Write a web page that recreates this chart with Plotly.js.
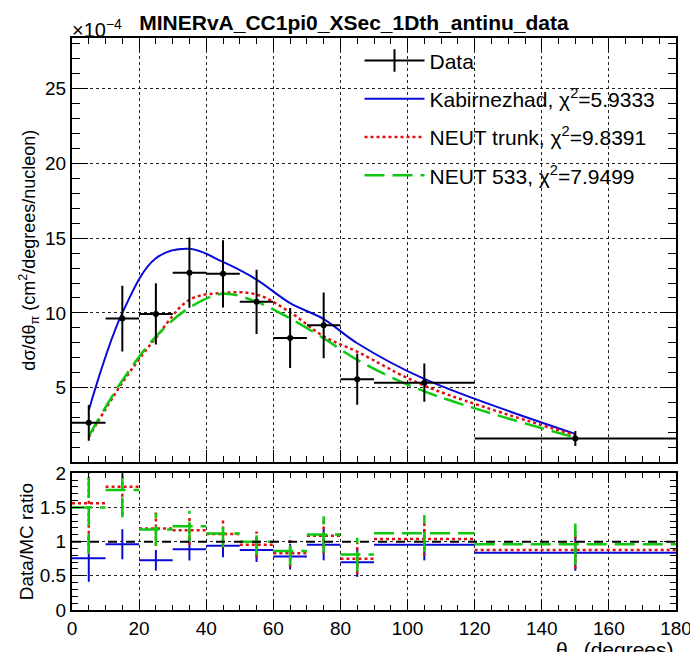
<!DOCTYPE html>
<html><head><meta charset="utf-8">
<script src="https://cdn.plot.ly/plotly-3.0.1.min.js"></script>
<style>html,body{margin:0;padding:0;background:#fff}#chart{width:690px;height:652px}</style>
</head><body><div id="chart"></div>
<script>
// Cross sections in units of 1e-4 cm^2/degrees/nucleon
const binEdges = [0, 10, 20, 30, 40, 50, 60, 70, 80, 90, 120, 180];
const dataXsec = [2.64, 9.62, 9.93, 12.69, 12.62, 10.74, 8.32, 9.17, 5.56, 5.33, 1.59];
const dataErr  = [1.20, 2.20, 2.05, 2.35, 2.25, 2.15, 2.00, 2.20, 1.70, 1.28, 0.50];
const kabXsec       = [3.49, 10.0, 13.66, 14.29, 13.41, 12.23, 10.65, 9.59, 7.97, 5.58, 1.90];
const neutTrunkXsec = [1.69, 5.33, 8.34, 10.88, 11.34, 11.23, 10.04, 8.43, 7.40, 5.13, 1.81];
const neut533Xsec   = [1.76, 5.48, 8.42, 10.35, 11.28, 10.74, 9.63, 8.30, 6.86, 4.75, 1.65];
const seriesNames = ['Kabirnezhad, χ<sup>2</sup>=5.9333', 'NEUT trunk, χ<sup>2</sup>=9.8391', 'NEUT 533, χ<sup>2</sup>=7.9499'];
const mainYTickVals = [0, 5, 10, 15, 20, 25];
const mainYTickText = ['', '5', '10', '15', '20', '25'];

const FONT = 'Liberation Sans, Arial, Helvetica, sans-serif';
const BLUE = '#0a0ad8', RED = '#e01010', GREEN = '#10c810';

const centers = binEdges.slice(0, -1).map((e, i) => (e + binEdges[i + 1]) / 2);
const halfW = binEdges.slice(0, -1).map((e, i) => (binEdges[i + 1] - e) / 2);

function ratioSegments(mc) {
  const xs = [], ys = [];
  mc.forEach((m, i) => {
    const r = dataXsec[i] / m, e = dataErr[i] / m;
    xs.push(binEdges[i], binEdges[i + 1], null, centers[i], centers[i], null);
    ys.push(r, r, null, r - e, r + e, null);
  });
  return {x: xs, y: ys};
}

const styles = [
  {color: BLUE, width: 2, dash: 'solid'},
  {color: RED, width: 2.5, dash: '3px,3px'},
  {color: GREEN, width: 2.5, dash: '20px,8px'}
];
const mcs = [kabXsec, neutTrunkXsec, neut533Xsec];
const groups = ['kab', 'trunk', 'n533'];

const traces = [];
// legend entry for data
traces.push({
  x: [null], y: [null], type: 'scatter', mode: 'lines+markers', name: 'Data',
  legendgroup: 'data',
  line: {color: 'black', width: 2},
  marker: {symbol: 'line-ns-open', size: 18, color: 'black', line: {color: 'black', width: 2}},
  hoverinfo: 'skip'
});
mcs.forEach((mc, k) => {
  traces.push({
    x: centers, y: mc, type: 'scatter', mode: 'lines', name: seriesNames[k],
    legendgroup: groups[k],
    line: {color: styles[k].color, width: styles[k].width, dash: styles[k].dash, shape: 'spline', smoothing: 1},
    xaxis: 'x', yaxis: 'y'
  });
});
traces.push({
  x: centers, y: dataXsec, type: 'scatter', mode: 'markers', name: 'Data', showlegend: false,
  marker: {color: 'black', size: 6},
  error_x: {type: 'data', array: halfW, width: 0, thickness: 2, color: 'black'},
  error_y: {type: 'data', array: dataErr, width: 0, thickness: 2, color: 'black'},
  xaxis: 'x', yaxis: 'y'
});
mcs.forEach((mc, k) => {
  const seg = ratioSegments(mc);
  traces.push({
    x: seg.x, y: seg.y, type: 'scatter', mode: 'lines', showlegend: false,
    name: seriesNames[k] + ' ratio',
    line: {color: styles[k].color, width: styles[k].width, dash: styles[k].dash},
    xaxis: 'x2', yaxis: 'y2', connectgaps: false
  });
});

const gridStyle = {showgrid: true, gridcolor: '#222', griddash: 'dot', gridwidth: 1};
const frame = {showline: true, linecolor: 'black', linewidth: 2, mirror: 'allticks', zeroline: false,
  ticks: 'inside', tickcolor: 'black', tickwidth: 1};

const layout = {
  width: 690, height: 652,
  margin: {l: 72, r: 14, t: 38, b: 42},
  paper_bgcolor: 'white', plot_bgcolor: 'white',
  font: {family: FONT, color: 'black', size: 19},
  title: {text: '<b>MINERvA_CC1pi0_XSec_1Dth_antinu_data</b>', x: 0.513, xanchor: 'center',
    y: 0.966, yanchor: 'middle', font: {family: FONT, size: 21, color: 'black'}},
  showlegend: true,
  legend: {x: 0.476, y: 0.996, xanchor: 'left', yanchor: 'top', bgcolor: 'rgba(0,0,0,0)',
    font: {family: FONT, size: 21}, itemwidth: 60, traceorder: 'grouped', tracegroupgap: 8},
  xaxis: Object.assign({}, frame, gridStyle, {
    domain: [0, 1], anchor: 'y', range: [0, 180], dtick: 20, tick0: 0, ticklen: 12,
    showticklabels: false, matches: 'x2',
    minor: {ticks: 'inside', dtick: 5, tick0: 0, ticklen: 6, tickcolor: 'black', showgrid: false}
  }),
  yaxis: Object.assign({}, frame, gridStyle, {
    domain: [0.2582, 1], anchor: 'x', range: [0, 28.4], tickmode: 'array',
    tickvals: mainYTickVals, ticktext: mainYTickText, ticklen: 16,
    tickfont: {size: 19},
    minor: {ticks: 'inside', tickmode: 'linear', dtick: 1, tick0: 0, ticklen: 8, tickcolor: 'black', showgrid: false},
    title: {text: 'dσ/dθ<sub>π</sub> (cm<sup>2</sup>/degrees/nucleon)', font: {size: 18}, standoff: 5}
  }),
  xaxis2: Object.assign({}, frame, gridStyle, {
    domain: [0, 1], anchor: 'y2', range: [0, 180], dtick: 20, tick0: 0, ticklen: 10,
    tickfont: {size: 19}, ticklabeloverflow: 'allow',
    minor: {ticks: 'inside', dtick: 5, tick0: 0, ticklen: 5, tickcolor: 'black', showgrid: false}
  }),
  yaxis2: Object.assign({}, frame, gridStyle, {
    domain: [0, 0.239], anchor: 'x2', range: [0, 2], dtick: 0.5, tick0: 0, ticklen: 12,
    tickfont: {size: 19},
    minor: {ticks: 'inside', dtick: 0.1, tick0: 0, ticklen: 6, tickcolor: 'black', showgrid: false},
    title: {text: 'Data/MC ratio', font: {size: 19}, standoff: 1}
  }),
  shapes: [{type: 'line', xref: 'paper', x0: 0, x1: 1, yref: 'y2', y0: 1, y1: 1,
    line: {color: 'black', width: 2, dash: 'dash'}}],
  annotations: [
    {text: '×10<sup>−4</sup>', xref: 'paper', yref: 'paper', x: -0.004, y: 1.017,
      xanchor: 'left', yanchor: 'middle', showarrow: false, font: {size: 20}},
    {text: 'θ<sub>π</sub> (degrees)', xref: 'paper', yref: 'paper', x: 1, y: -0.045,
      xanchor: 'right', yanchor: 'top', showarrow: false, font: {size: 21}}
  ]
};

Plotly.newPlot('chart', traces, layout, {displayModeBar: false, staticPlot: true});
</script>
</body></html>
